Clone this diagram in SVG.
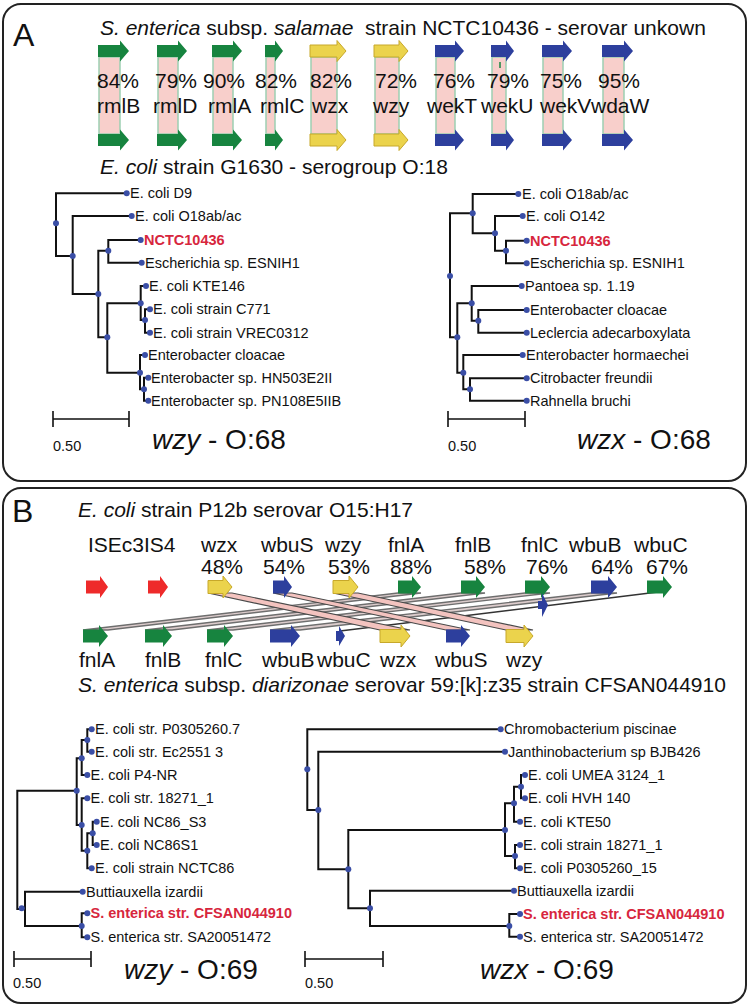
<svg xmlns="http://www.w3.org/2000/svg" width="750" height="1007" viewBox="0 0 750 1007">
<style>
text{font-family:"Liberation Sans",Arial,sans-serif;fill:#111}
.t{font-size:21px}
.leaf{font-size:14.5px}
.red{fill:#d7263d;font-weight:bold}
.big{font-size:28px}
.pan{font-size:32px}
.br{fill:none;stroke:#111;stroke-width:2}
.sb{fill:none;stroke:#111;stroke-width:1.6}
.dot{fill:#3a4ea6}
.g{fill:#17843f}
.y{fill:#ebd34c;stroke:#c7a82a;stroke-width:1}
.b{fill:#2d3f9d}
.r{fill:#ee2a2a}
.pk{fill:#f8cfcb;stroke:#9dcfb2;stroke-width:1.5}
.bandp{fill:#f3c3bf;stroke:#4a4a4a;stroke-width:1.2}
.bandg{fill:#dccccc;stroke:#6e6e6e;stroke-width:1.4}
.frame{fill:#fff;stroke:#222;stroke-width:2}
</style>
<rect class="frame" x="3" y="4" width="743" height="477" rx="18"/>
<rect class="frame" x="3" y="488" width="743" height="515" rx="18"/>

<!-- PANEL A -->
<g id="panelA-header">
<text class="pan" x="13" y="46">A</text>
<text class="t" x="100" y="35" font-size="21.5px" xml:space="preserve"><tspan font-style="italic">S. enterica</tspan> subsp. <tspan font-style="italic">salamae</tspan>  strain NCTC10436 - serovar unkown</text>
<text class="t" x="100" y="174"><tspan font-style="italic">E. coli</tspan> strain G1630 - serogroup O:18</text>
</g>

<g id="geneA-rmlB">
<rect class="pk" x="99" y="57" width="21" height="77"/>
<polygon class="g" points="98,45 120,45 120,40.5 129,51 120,61.5 120,57 98,57"/>
<polygon class="g" points="98,134 120,134 120,129.5 129,140 120,150.5 120,146 98,146"/>
<text class="t" x="97" y="88">84%</text><text class="t" x="97" y="113">rmlB</text>
</g>
<g id="geneA-rmlD">
<rect class="pk" x="158" y="57" width="20" height="77"/>
<polygon class="g" points="157,45 178,45 178,40.5 187,51 178,61.5 178,57 157,57"/>
<polygon class="g" points="157,134 178,134 178,129.5 187,140 178,150.5 178,146 157,146"/>
<text class="t" x="155" y="88">79%</text><text class="t" x="153" y="113">rmlD</text>
</g>
<g id="geneA-rmlA">
<rect class="pk" x="213" y="57" width="20" height="77"/>
<polygon class="g" points="212,45 233,45 233,40.5 242,51 233,61.5 233,57 212,57"/>
<polygon class="g" points="212,134 233,134 233,129.5 242,140 233,150.5 233,146 212,146"/>
<text class="t" x="203" y="88">90%</text><text class="t" x="208" y="113">rmlA</text>
</g>
<g id="geneA-rmlC">
<rect class="pk" x="266" y="57" width="9" height="77"/>
<polygon class="g" points="265,45 275,45 275,40.5 283,51 275,61.5 275,57 265,57"/>
<polygon class="g" points="265,134 275,134 275,129.5 283,140 275,150.5 275,146 265,146"/>
<text class="t" x="255" y="88">82%</text><text class="t" x="260" y="113">rmlC</text>
</g>
<g id="geneA-wzx">
<rect class="pk" x="311" y="57" width="26" height="77"/>
<polygon class="y" points="310,45 337,45 337,40.5 346,51 337,61.5 337,57 310,57"/>
<polygon class="y" points="310,134 337,134 337,129.5 346,140 337,150.5 337,146 310,146"/>
<text class="t" x="310" y="88">82%</text><text class="t" x="312" y="113">wzx</text>
</g>
<g id="geneA-wzy">
<rect class="pk" x="375" y="57" width="24" height="77"/>
<polygon class="y" points="374,45 399,45 399,40.5 408,51 399,61.5 399,57 374,57"/>
<polygon class="y" points="374,134 399,134 399,129.5 408,140 399,150.5 399,146 374,146"/>
<text class="t" x="375" y="88">72%</text><text class="t" x="373" y="113">wzy</text>
</g>
<g id="geneA-wekT">
<rect class="pk" x="436" y="57" width="19" height="77"/>
<polygon class="b" points="435,45 455,45 455,40.5 464,51 455,61.5 455,57 435,57"/>
<polygon class="b" points="435,134 455,134 455,129.5 464,140 455,150.5 455,146 435,146"/>
<text class="t" x="433" y="88">76%</text><text class="t" x="427" y="113">wekT</text>
</g>
<g id="geneA-wekU">
<rect class="pk" x="492" y="57" width="14" height="77"/>
<polygon class="b" points="491,45 506,45 506,40.5 514,51 506,61.5 506,57 491,57"/>
<polygon class="b" points="491,134 506,134 506,129.5 514,140 506,150.5 506,146 491,146"/>
<line x1="500" y1="62" x2="500" y2="68" stroke="#17843f" stroke-width="1.5"/>
<text class="t" x="487" y="88">79%</text><text class="t" x="481" y="113">wekU</text>
</g>
<g id="geneA-wekV">
<rect class="pk" x="543" y="57" width="20" height="77"/>
<polygon class="b" points="542,45 563,45 563,40.5 572,51 563,61.5 563,57 542,57"/>
<polygon class="b" points="542,134 563,134 563,129.5 572,140 563,150.5 563,146 542,146"/>
<text class="t" x="540" y="88">75%</text><text class="t" x="540" y="113">wekV</text>
</g>
<g id="geneA-wdaW">
<rect class="pk" x="603" y="57" width="21" height="77"/>
<polygon class="b" points="602,45 624,45 624,40.5 633,51 624,61.5 624,57 602,57"/>
<polygon class="b" points="602,134 624,134 624,129.5 633,140 624,150.5 624,146 602,146"/>
<text class="t" x="598" y="88">95%</text><text class="t" x="591" y="113">wdaW</text>
</g>

<!-- Tree A left -->
<g id="connectors-treeA-wzy">
<path class="br" d="M126.7,193.3H56V256H72.7 M131.7,216H72.7V294H98.3 M140.7,240H108.3V262.7H141.7 M108.3,250.7H98.3V337.3H107.3 M140.7,303.3H107.3V372.7H140 M146,286H140.7V320H145 M150,309.3H145V332.7H150 M145,355H140V389.3H144 M148.3,377.7H144V400.7H148.3"/>
</g>
<g id="treeA-wzy">
<g class="dot">
<circle cx="56" cy="223.3" r="3"/><circle cx="72.7" cy="256" r="3"/><circle cx="98.3" cy="294" r="3"/><circle cx="108.3" cy="250.7" r="3"/><circle cx="107.3" cy="337.3" r="3"/><circle cx="140.7" cy="303.3" r="3"/><circle cx="145" cy="320" r="3"/><circle cx="140" cy="372.7" r="3"/><circle cx="144" cy="389.3" r="3"/>
<circle cx="126.7" cy="193.3" r="3"/><circle cx="131.7" cy="216" r="3"/><circle cx="140.7" cy="240" r="3"/><circle cx="141.7" cy="262.7" r="3"/><circle cx="146" cy="286" r="3"/><circle cx="150" cy="309.3" r="3"/><circle cx="150" cy="332.7" r="3"/><circle cx="145" cy="355" r="3"/><circle cx="148.3" cy="377.7" r="3"/><circle cx="148.3" cy="400.7" r="3"/>
</g>
<text class="leaf" x="130" y="198.3">E. coli D9</text>
<text class="leaf" x="135" y="221">E. coli O18ab/ac</text>
<text class="leaf red" x="144" y="245">NCTC10436</text>
<text class="leaf" x="145" y="267.7">Escherichia sp. ESNIH1</text>
<text class="leaf" x="149" y="291">E. coli KTE146</text>
<text class="leaf" x="153" y="314.3">E. coli strain C771</text>
<text class="leaf" x="153" y="337.7">E. coli strain VREC0312</text>
<text class="leaf" x="148" y="360">Enterobacter cloacae</text>
<text class="leaf" x="151" y="382.7">Enterobacter sp. HN503E2II</text>
<text class="leaf" x="151" y="405.7">Enterobacter sp. PN108E5IIB</text>
<path class="sb" d="M53,411V427 M53,419H129 M129,411V427"/>
<text class="leaf" x="53" y="451">0.50</text>
<text class="big" x="152" y="449"><tspan font-style="italic">wzy</tspan> - O:68</text>
</g>

<!-- Tree A right -->
<g id="connectors-treeA-wzx">
<path class="br" d="M472.7,213.3H450V337.3H457.3 M518.3,194H472.7V233.3H495 M522.7,216H495V250.7H506 M526.7,240.7H506V263.3H526.7 M471.7,303.3H457.3V372.7H463.3 M521.7,286H471.7V320.7H478.3 M526.7,310H478.3V332.7H526.7 M522.7,355H463.3V389.3H470 M526.7,378.3H470V400.7H526.7"/>
</g>
<g id="treeA-wzx">
<g class="dot">
<circle cx="450" cy="276" r="3"/><circle cx="472.7" cy="213.3" r="3"/><circle cx="495" cy="233.3" r="3"/><circle cx="506" cy="250.7" r="3"/><circle cx="457.3" cy="337.3" r="3"/><circle cx="471.7" cy="303.3" r="3"/><circle cx="478.3" cy="320.7" r="3"/><circle cx="463.3" cy="372.7" r="3"/><circle cx="470" cy="389.3" r="3"/>
<circle cx="518.3" cy="194" r="3"/><circle cx="522.7" cy="216" r="3"/><circle cx="526.7" cy="240.7" r="3"/><circle cx="526.7" cy="263.3" r="3"/><circle cx="521.7" cy="286" r="3"/><circle cx="526.7" cy="310" r="3"/><circle cx="526.7" cy="332.7" r="3"/><circle cx="522.7" cy="355" r="3"/><circle cx="526.7" cy="378.3" r="3"/><circle cx="526.7" cy="400.7" r="3"/>
</g>
<text class="leaf" x="522" y="199">E. coli O18ab/ac</text>
<text class="leaf" x="526" y="221">E. coli O142</text>
<text class="leaf red" x="530" y="245.7">NCTC10436</text>
<text class="leaf" x="530" y="268.3">Escherichia sp. ESNIH1</text>
<text class="leaf" x="525" y="291">Pantoea sp. 1.19</text>
<text class="leaf" x="530" y="315">Enterobacter cloacae</text>
<text class="leaf" x="530" y="337.7">Leclercia adecarboxylata</text>
<text class="leaf" x="526" y="360">Enterobacter hormaechei</text>
<text class="leaf" x="530" y="383.3">Citrobacter freundii</text>
<text class="leaf" x="530" y="405.7">Rahnella bruchi</text>
<path class="sb" d="M448,411V427 M448,419H525 M525,411V427"/>
<text class="leaf" x="448" y="451">0.50</text>
<text class="big" x="577" y="449"><tspan font-style="italic">wzx</tspan> - O:68</text>
</g>

<!-- PANEL B -->
<g id="panelB-header">
<text class="pan" x="12" y="522">B</text>
<text class="t" x="78" y="517"><tspan font-style="italic">E. coli</tspan> strain P12b serovar O15:H17</text>
<text class="t" x="78" y="692"><tspan font-style="italic">S. enterica</tspan> subsp. <tspan font-style="italic">diarizonae</tspan> serovar 59:[k]:z35 strain CFSAN044910</text>
</g>

<g id="connectors-synteny">
<polygon class="bandg" points="398,593 421,593 108,630 83,630"/>
<polygon class="bandg" points="461,593 485,593 172,630 145,630"/>
<polygon class="bandg" points="525,593 550,593 233,630 207,630"/>
<polygon class="bandg" points="591,593 617,593 300,630 270,630"/>
<line x1="658" y1="592" x2="340" y2="631" stroke="#333" stroke-width="1.5"/>
<polygon class="bandp" points="208,593 232,593 410,630 380,630"/>
<polygon class="bandp" points="273,593 292,593 470,630 446,630"/>
<polygon class="bandp" points="333,593 358,593 533,630 506,630"/>
</g>

<g id="geneB-top-ISEc3"><polygon class="r" points="86,580.5 100,580.5 100,576 108,587 100,598 100,593.5 86,593.5"/></g>
<g id="geneB-top-IS4"><polygon class="r" points="148,580.5 160,580.5 160,576 168,587 160,598 160,593.5 148,593.5"/></g>
<text class="t" x="88" y="552">ISEc3IS4</text>
<g id="geneB-top-wzx"><polygon class="y" points="208,580.5 223,580.5 223,576 232,587 223,598 223,593.5 208,593.5"/><text class="t" x="201" y="552">wzx</text><text class="t" x="201" y="574">48%</text></g>
<g id="geneB-top-wbuS"><polygon class="b" points="273,580.5 284,580.5 284,576 292,587 284,598 284,593.5 273,593.5"/><text class="t" x="261" y="552">wbuS</text><text class="t" x="263" y="574">54%</text></g>
<g id="geneB-top-wzy"><polygon class="y" points="333,580.5 349,580.5 349,576 358,587 349,598 349,593.5 333,593.5"/><text class="t" x="325" y="552">wzy</text><text class="t" x="328" y="574">53%</text></g>
<g id="geneB-top-fnlA"><polygon class="g" points="398,580.5 412,580.5 412,576 421,587 412,598 412,593.5 398,593.5"/><text class="t" x="388" y="552">fnlA</text><text class="t" x="390" y="574">88%</text></g>
<g id="geneB-top-fnlB"><polygon class="g" points="461,580.5 476,580.5 476,576 485,587 476,598 476,593.5 461,593.5"/><text class="t" x="455" y="552">fnlB</text><text class="t" x="464" y="574">58%</text></g>
<g id="geneB-top-fnlC"><polygon class="g" points="525,580.5 541,580.5 541,576 550,587 541,598 541,593.5 525,593.5"/><text class="t" x="521" y="552">fnlC</text><text class="t" x="526" y="574">76%</text></g>
<g id="geneB-top-wbuB"><polygon class="b" points="591,580.5 608,580.5 608,576 617,587 608,598 608,593.5 591,593.5"/><text class="t" x="569" y="552">wbuB</text><text class="t" x="591" y="574">64%</text></g>
<g id="geneB-top-wbuC"><polygon class="g" points="647,580.5 663,580.5 663,576 672,587 663,598 663,593.5 647,593.5"/><text class="t" x="634" y="552">wbuC</text><text class="t" x="646" y="574">67%</text></g>
<g id="geneB-mid"><polygon class="b" points="538,601 542,601 542,593 548,605 542,617 542,609 538,609"/></g>

<g id="geneB-bot-fnlA"><polygon class="g" points="83,629.5 99,629.5 99,625 108,636 99,647 99,642.5 83,642.5"/><text class="t" x="79" y="667">fnlA</text></g>
<g id="geneB-bot-fnlB"><polygon class="g" points="145,629.5 163,629.5 163,625 172,636 163,647 163,642.5 145,642.5"/><text class="t" x="145" y="667">fnlB</text></g>
<g id="geneB-bot-fnlC"><polygon class="g" points="207,629.5 224,629.5 224,625 233,636 224,647 224,642.5 207,642.5"/><text class="t" x="205" y="667">fnlC</text></g>
<g id="geneB-bot-wbuB"><polygon class="b" points="270,629.5 291,629.5 291,625 300,636 291,647 291,642.5 270,642.5"/><text class="t" x="262" y="667">wbuB</text></g>
<g id="geneB-bot-wbuC"><polygon class="b" points="336,631 339,631 339,626 345,636 339,646 339,641 336,641"/><text class="t" x="317" y="667">wbuC</text></g>
<g id="geneB-bot-wzx"><polygon class="y" points="380,629.5 401,629.5 401,625 410,636 401,647 401,642.5 380,642.5"/><text class="t" x="380" y="667">wzx</text></g>
<g id="geneB-bot-wbuS"><polygon class="b" points="446,629.5 461,629.5 461,625 470,636 461,647 461,642.5 446,642.5"/><text class="t" x="435" y="667">wbuS</text></g>
<g id="geneB-bot-wzy"><polygon class="y" points="506,629.5 524,629.5 524,625 533,636 524,647 524,642.5 506,642.5"/><text class="t" x="506" y="667">wzy</text></g>

<!-- Tree B left -->
<g id="connectors-treeB-wzy">
<path class="br" d="M76.7,790.7H17.3V909H25 M82.7,891.7H25V926H81.7 M87.3,913.3H81.7V937.3H87.3 M81.7,758.3H76.7V825H81.7 M87.3,740H81.7V775H87.3 M91.7,729.3H87.3V751.7H91.7 M87.3,798.3H81.7V850.7H87.3 M92.7,833.3H87.3V868.3H91.7 M96.7,821.7H92.7V845H96.7"/>
</g>
<g id="treeB-wzy">
<g class="dot">
<circle cx="21.7" cy="908.3" r="3"/><circle cx="76.7" cy="790.7" r="3"/><circle cx="81.7" cy="758.3" r="3"/><circle cx="87.3" cy="740" r="3"/><circle cx="81.7" cy="825" r="3"/><circle cx="87.3" cy="850.7" r="3"/><circle cx="92.7" cy="833.3" r="3"/><circle cx="81.7" cy="926" r="3"/>
<circle cx="91.7" cy="729.3" r="3"/><circle cx="91.7" cy="751.7" r="3"/><circle cx="87.3" cy="775" r="3"/><circle cx="87.3" cy="798.3" r="3"/><circle cx="96.7" cy="821.7" r="3"/><circle cx="96.7" cy="845" r="3"/><circle cx="91.7" cy="868.3" r="3"/><circle cx="82.7" cy="891.7" r="3"/><circle cx="87.3" cy="913.3" r="3"/><circle cx="87.3" cy="937.3" r="3"/>
</g>
<text class="leaf" x="95" y="734.3">E. coli str. P0305260.7</text>
<text class="leaf" x="95" y="756.7">E. coli str. Ec2551 3</text>
<text class="leaf" x="90.5" y="780">E. coli P4-NR</text>
<text class="leaf" x="90.5" y="803.3">E. coli str. 18271_1</text>
<text class="leaf" x="100" y="826.7">E. coli NC86_S3</text>
<text class="leaf" x="100" y="850">E. coli NC86S1</text>
<text class="leaf" x="95" y="873.3">E. coli strain NCTC86</text>
<text class="leaf" x="86" y="896.7">Buttiauxella izardii</text>
<text class="leaf red" x="90.5" y="918.3">S. enterica str. CFSAN044910</text>
<text class="leaf" x="90.5" y="942.3">S. enterica str. SA20051472</text>
<path class="sb" d="M14,951V967 M14,959H91 M91,951V967"/>
<text class="leaf" x="13" y="988">0.50</text>
<text class="big" x="124" y="979"><tspan font-style="italic">wzy</tspan> - O:69</text>
</g>

<!-- Tree B right -->
<g id="connectors-treeB-wzx">
<path class="br" d="M500.7,729.3H307.3V810H318.3 M505,751.7H318.3V869.3H348.3 M505,830H348.3V908.3H370 M514,890.7H370V926H509.3 M520,914H509.3V936.7H520 M514,803.3H505V856H515 M520,786.7H514V821.7H520 M525,775H521V798.3H525 M520,845H515V868.3H520"/>
</g>
<g id="treeB-wzx">
<g class="dot">
<circle cx="307.3" cy="769.3" r="3"/><circle cx="318.3" cy="810" r="3"/><circle cx="348.3" cy="869.3" r="3"/><circle cx="370" cy="908.3" r="3"/><circle cx="509.3" cy="926" r="3"/><circle cx="505" cy="830" r="3"/><circle cx="514" cy="803.3" r="3"/><circle cx="521" cy="786.7" r="3"/><circle cx="515" cy="856" r="3"/>
<circle cx="500.7" cy="729.3" r="3"/><circle cx="505" cy="751.7" r="3"/><circle cx="525" cy="775" r="3"/><circle cx="525" cy="798.3" r="3"/><circle cx="520" cy="821.7" r="3"/><circle cx="520" cy="845" r="3"/><circle cx="520" cy="868.3" r="3"/><circle cx="514" cy="890.7" r="3"/><circle cx="520" cy="914" r="3"/><circle cx="520" cy="936.7" r="3"/>
</g>
<text class="leaf" x="504" y="734.3">Chromobacterium piscinae</text>
<text class="leaf" x="508" y="756.7">Janthinobacterium sp BJB426</text>
<text class="leaf" x="528" y="780">E. coli UMEA 3124_1</text>
<text class="leaf" x="528" y="803.3">E. coli HVH 140</text>
<text class="leaf" x="523" y="826.7">E. coli KTE50</text>
<text class="leaf" x="523" y="850">E. coli strain 18271_1</text>
<text class="leaf" x="523" y="873.3">E. coli P0305260_15</text>
<text class="leaf" x="517" y="895.7">Buttiauxella izardii</text>
<text class="leaf red" x="523" y="919">S. enterica str. CFSAN044910</text>
<text class="leaf" x="523" y="941.7">S. enterica str. SA20051472</text>
<path class="sb" d="M305,951V967 M305,959H383 M383,951V967"/>
<text class="leaf" x="305" y="988">0.50</text>
<text class="big" x="480" y="979"><tspan font-style="italic">wzx</tspan> - O:69</text>
</g>
</svg>
